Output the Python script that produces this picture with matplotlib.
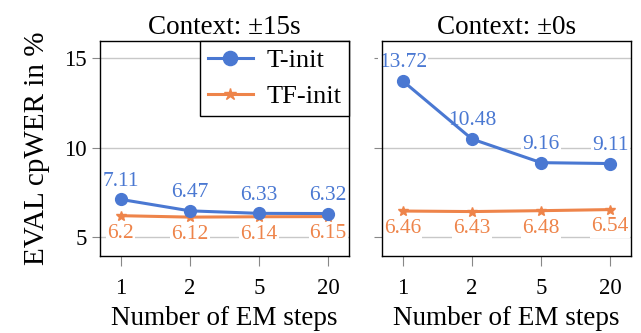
import matplotlib.pyplot as plt
import numpy as np

steps = ['1', '2', '5', '20']
titles = ['Context: ±15s', 'Context: ±0s']
t_init = [[7.11, 6.47, 6.33, 6.32], [13.72, 10.48, 9.16, 9.11]]
tf_init = [[6.2, 6.12, 6.14, 6.15], [6.46, 6.43, 6.48, 6.54]]
t_labels = [['7.11', '6.47', '6.33', '6.32'], ['13.72', '10.48', '9.16', '9.11']]
tf_labels = [['6.2', '6.12', '6.14', '6.15'], ['6.46', '6.43', '6.48', '6.54']]

plt.rcParams['font.family'] = ['Liberation Serif', 'DejaVu Serif']

blue = '#4a78d2'
orange = '#ee844a'

fig = plt.figure(figsize=(6.41, 3.33), dpi=100)
ax1 = fig.add_axes([100 / 641, 1 - 256 / 333, 249 / 641, 215 / 333])
ax2 = fig.add_axes([382 / 641, 1 - 256 / 333, 249 / 641, 215 / 333])
axes = [ax1, ax2]

x = np.arange(len(steps))
for k, ax in enumerate(axes):
    ax.plot(x, t_init[k], color=blue, lw=2.2, marker='o', ms=8.5, label='T-init', zorder=4)
    ax.plot(x, tf_init[k], color=orange, lw=2.2, marker='*', ms=7.5, label='TF-init', zorder=3)
    for i in range(len(steps)):
        ax.annotate(t_labels[k][i], (x[i], t_init[k][i]), xytext=(0, 13), textcoords='offset points',
                    ha='center', va='center', color=blue, fontsize=15.5, zorder=2,
                    bbox=dict(boxstyle='square,pad=0.05', fc='white', ec='none'))
        ax.annotate(tf_labels[k][i], (x[i], tf_init[k][i]), xytext=(0, -12.5), textcoords='offset points',
                    ha='center', va='center', color=orange, fontsize=15.5, zorder=2,
                    bbox=dict(boxstyle='square,pad=0.05', fc='white', ec='none'))
    ax.set_xlim(-0.3, 3.3)
    ax.set_ylim(3.95, 15.95)
    ax.set_xticks(x)
    ax.set_xticklabels(steps)
    ax.set_yticks([5, 10, 15])
    ax.grid(axis='y', color='#c8c8c8', lw=1, zorder=0)
    ax.set_axisbelow(True)
    ax.tick_params(axis='both', direction='out', color='#888888', length=6, width=0.8, labelsize=16.5)
    ax.tick_params(axis='x', length=7, pad=9)
    ax.set_title(titles[k], fontsize=19.5, pad=5)
    ax.set_xlabel('Number of EM steps', fontsize=19.5, labelpad=5)
    for s in ax.spines.values():
        s.set_linewidth(1)

ax2.tick_params(axis='y', labelleft=False)
ax1.set_ylabel('EVAL cpWER in %', fontsize=21, labelpad=10)

leg = ax1.legend(loc='upper right', fontsize=19, frameon=True, fancybox=False, edgecolor='black',
                 borderaxespad=0, handlelength=1.7, borderpad=0.3, labelspacing=0.45, handletextpad=0.5,
                 markerscale=1.2)
leg.get_frame().set_linewidth(1)
leg.get_frame().set_alpha(1)

fig.savefig('out.png', dpi=100)
